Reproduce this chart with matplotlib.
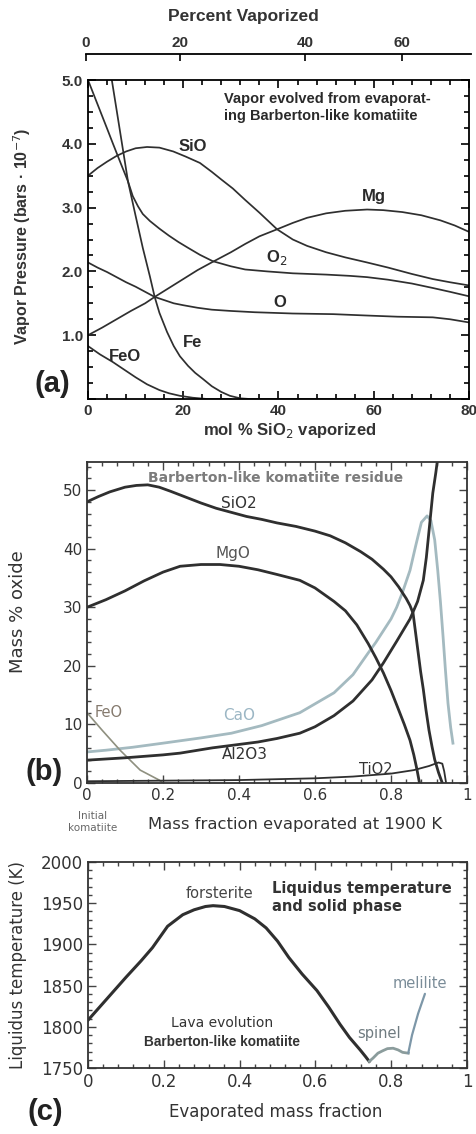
import matplotlib
matplotlib.use("Agg")
import matplotlib.pyplot as plt
from matplotlib.ticker import MultipleLocator, FixedLocator, FuncFormatter

W, H = 477, 1134

# ---------- panel (a): vapour pressures vs mol % SiO2 vaporized ----------
sio_x = [0, 2, 4, 6, 8, 10, 12.4, 15, 17.9, 20.5, 23.5, 26, 28, 30.4, 33, 36, 39.7, 43, 46, 50, 54, 58.6, 63, 68, 72.4, 76, 80]
sio_y = [3.5, 3.62, 3.72, 3.81, 3.88, 3.93, 3.95, 3.94, 3.88, 3.8, 3.7, 3.56, 3.44, 3.3, 3.12, 2.92, 2.66, 2.5, 2.4, 2.3, 2.22, 2.14, 2.06, 1.96, 1.88, 1.83, 1.78]
mg_x = [0, 3, 6, 9, 12, 14, 17, 20, 23, 26.2, 30, 33, 36, 39.7, 43, 46, 50, 54, 58.6, 62, 66, 70, 74, 77, 80]
mg_y = [1.0, 1.12, 1.25, 1.38, 1.5, 1.6, 1.74, 1.88, 2.02, 2.15, 2.3, 2.43, 2.55, 2.66, 2.76, 2.84, 2.91, 2.95, 2.97, 2.96, 2.93, 2.88, 2.8, 2.72, 2.62]
o2_x = [0, 2, 4, 5.25, 7, 8.4, 9.4, 10.5, 11.5, 13, 15, 17, 19, 21, 23.5, 26.2, 30, 33, 37.6, 43, 50, 55, 58.6, 63, 68, 72.4, 76, 80]
o2_y = [5.0, 4.62, 4.24, 4.0, 3.67, 3.41, 3.18, 3.02, 2.9, 2.79, 2.67, 2.56, 2.46, 2.37, 2.26, 2.16, 2.08, 2.03, 2.0, 1.97, 1.95, 1.93, 1.91, 1.87, 1.81, 1.74, 1.68, 1.61]
o_x = [0, 2, 4, 6, 8, 10, 12, 14, 16, 18, 20, 23, 26, 30, 35, 43, 51.5, 58, 65, 72.4, 76, 80]
o_y = [2.14, 2.06, 1.99, 1.91, 1.83, 1.76, 1.68, 1.6, 1.55, 1.5, 1.47, 1.43, 1.4, 1.38, 1.36, 1.34, 1.33, 1.31, 1.29, 1.28, 1.25, 1.2]
fe_x = [5, 6.5, 8.4, 10, 11.5, 13, 14, 15, 16.6, 18, 19.3, 21, 22.5, 24.2, 26, 28, 29.8, 32, 34, 80]
fe_y = [5.0, 4.3, 3.41, 2.87, 2.37, 1.92, 1.6, 1.35, 1.05, 0.83, 0.67, 0.52, 0.41, 0.31, 0.2, 0.11, 0.05, 0.01, 0.0, 0.0]
feo_x = [0, 2.5, 5.2, 8, 10, 12.4, 15, 17, 19.3, 22, 25, 30]
feo_y = [0.83, 0.7, 0.58, 0.44, 0.34, 0.23, 0.14, 0.09, 0.05, 0.02, 0.0, 0.0]
pct_labels = ["0", "20", "40", "60"]
pct_pos = [-0.4, 19.3, 45.6, 65.9]

# ---------- panel (b): residue composition ----------
sio2_x = [0, 0.03, 0.06, 0.1, 0.13, 0.16, 0.19, 0.22, 0.26, 0.3, 0.34, 0.38, 0.42, 0.46, 0.5, 0.55, 0.6, 0.64, 0.68,
          0.72, 0.75, 0.78, 0.8, 0.82, 0.84, 0.85, 0.858, 0.865, 0.872, 0.878, 0.885, 0.892, 0.9, 0.908, 0.915, 0.925, 0.935]
sio2_y = [48, 48.9, 49.7, 50.5, 50.8, 50.9, 50.5, 49.8, 48.8, 47.8, 46.9, 46.2, 45.5, 45, 44.4, 43.8, 43, 42.2, 41,
          39.5, 38.2, 36.5, 35.2, 33.5, 31.5, 30.3, 29, 25.5, 22, 19, 16, 12.5, 9, 6.2, 4, 1.8, 0]
mgo_x = [0, 0.05, 0.1, 0.15, 0.2, 0.245, 0.3, 0.35, 0.4, 0.45, 0.5, 0.56, 0.6, 0.65, 0.68, 0.71, 0.74, 0.76, 0.78,
         0.8, 0.82, 0.835, 0.85, 0.86, 0.868, 0.875]
mgo_y = [30, 31.3, 32.8, 34.5, 36, 37, 37.3, 37.3, 37, 36.4, 35.6, 34.6, 33.3, 31, 29.4, 27, 23.8, 21.4, 18.8,
         15.8, 12.5, 10, 7.3, 4.8, 2.4, 0]
cao_x = [0, 0.05, 0.12, 0.2, 0.3, 0.38, 0.46, 0.56, 0.65, 0.7, 0.74, 0.76, 0.78, 0.8, 0.815, 0.83, 0.85, 0.865, 0.88,
         0.895, 0.905, 0.915, 0.923, 0.93, 0.937, 0.943, 0.95, 0.957, 0.963]
cao_y = [5.3, 5.6, 6.1, 6.8, 7.7, 8.5, 9.8, 12, 15.4, 18.5, 22.2, 24, 26, 28, 30, 32.5, 36.3, 40.5, 44.5,
         45.6, 44.8, 41.5, 36.3, 31, 25, 19.5, 13.6, 9.5, 6.8]
al_x = [0, 0.1, 0.2, 0.245, 0.33, 0.45, 0.5, 0.56, 0.6, 0.65, 0.7, 0.75, 0.78, 0.815, 0.85, 0.87, 0.885, 0.893,
        0.9, 0.91, 0.918, 0.924]
al_y = [3.9, 4.3, 4.8, 5.1, 6.0, 7.0, 7.6, 8.5, 9.6, 11.5, 14, 17.6, 20.5, 24.2, 28, 31, 34.6, 38.5,
        43, 49.5, 53, 56]
feo_b_x = [0, 0.04, 0.087, 0.14, 0.19, 0.2]
feo_b_y = [12, 9, 5.6, 2.2, 0.5, 0]
tio2_x = [0, 0.2, 0.4, 0.6, 0.7, 0.8, 0.86, 0.9, 0.925, 0.935, 0.94, 0.945]
tio2_y = [0.3, 0.4, 0.5, 0.8, 1.1, 1.6, 2.2, 2.9, 3.5, 3.3, 2.0, 0]

# ---------- panel (c): liquidus temperature ----------
fo_x = [0, 0.05, 0.1, 0.14, 0.17, 0.21, 0.25, 0.28, 0.31, 0.33, 0.36, 0.4, 0.44, 0.47, 0.5, 0.53, 0.565, 0.604,
        0.635, 0.665, 0.69, 0.718, 0.732, 0.742]
fo_y = [1808, 1834, 1860, 1880, 1896, 1922, 1936, 1942, 1946, 1947, 1946, 1941, 1931, 1920, 1904, 1884, 1864, 1844,
        1824, 1803, 1787, 1772, 1764, 1758]
sp_x = [0.742, 0.752, 0.765, 0.778, 0.79, 0.805, 0.818, 0.83, 0.845]
sp_y = [1758, 1762, 1768, 1771, 1773.5, 1774, 1772, 1769, 1768]
mel_x = [0.845, 0.855, 0.871, 0.889]
mel_y = [1768, 1790, 1816, 1840]


def fx(px):
    return px / W


def fy(py):
    return 1 - py / H


def box(l, t, r, b):
    return [fx(l), fy(b), fx(r) - fx(l), fy(t) - fy(b)]


fig = plt.figure(figsize=(W / 100, H / 100), dpi=100)
BOLD = "Liberation Sans"
dark = "#2f2f2f"

# ---- (a)
ax = fig.add_axes(box(88, 80, 469, 399))
for xs, ys in [(sio_x, sio_y), (mg_x, mg_y), (o2_x, o2_y), (o_x, o_y), (fe_x, fe_y), (feo_x, feo_y)]:
    ax.plot(xs, ys, color=dark, lw=1.25, solid_joinstyle="round")
ax.set_xlim(0, 80)
ax.set_ylim(0, 5.0)
ax.xaxis.set_major_locator(MultipleLocator(20))
ax.xaxis.set_minor_locator(MultipleLocator(4))
ax.yaxis.set_major_locator(MultipleLocator(1))
ax.yaxis.set_minor_locator(MultipleLocator(0.25))
ax.yaxis.set_major_formatter(FuncFormatter(lambda v, p: "" if v == 0 else f"{v:.1f}"))
ax.tick_params(which="both", direction="in", top=True, right=True, width=1.2)
ax.tick_params(which="major", length=6, labelsize=11)
ax.tick_params(which="minor", length=3.5)
for lab in ax.get_xticklabels() + ax.get_yticklabels():
    lab.set_family(BOLD)
    lab.set_fontweight("bold")
    lab.set_color("#333333")
for s in ax.spines.values():
    s.set_linewidth(1.3)
kw = dict(family=BOLD, fontweight="bold", color="#2a2a2a", fontsize=12, ha="center", va="center")
ax.text(22.0, 3.95, "SiO", **kw)
ax.text(60.1, 3.17, "Mg", **kw)
ax.text(39.7, 2.22, "O$_2$", **kw)
ax.text(40.3, 1.52, "O", **kw)
ax.text(22.0, 0.89, "Fe", **kw)
ax.text(7.8, 0.67, "FeO", **kw)
ax.text(28.6, 4.57, "Vapor evolved from evaporat-\ning Barberton-like komatiite", family=BOLD,
        fontweight="bold", fontsize=10.5, color="#2a2a2a", ha="left", va="center", linespacing=1.25)

# top "Percent Vaporized" axis
axt = fig.add_axes([fx(86), fy(55), fx(471) - fx(86), 0.0005])
axt.set_xlim((86 - 88) / 4.7625, (471 - 88) / 4.7625)
axt.patch.set_visible(False)
for k in ["left", "right", "bottom"]:
    axt.spines[k].set_visible(False)
axt.spines["top"].set_linewidth(1.3)
axt.xaxis.tick_top()
axt.set_yticks([])
axt.xaxis.set_major_locator(FixedLocator(pct_pos))
axt.set_xticklabels(pct_labels)
axt.tick_params(axis="x", direction="in", length=5, width=1.2, labelsize=11, pad=3)
for lab in axt.get_xticklabels():
    lab.set_family(BOLD)
    lab.set_fontweight("bold")
    lab.set_color("#333333")
fig.text(fx(243), fy(17), "Percent Vaporized", family=BOLD, fontweight="bold", fontsize=12.5,
         color="#333333", ha="center", va="center")
fig.text(fx(290), fy(430), "mol % SiO$_2$ vaporized", family=BOLD, fontweight="bold", fontsize=12,
         color="#333333", ha="center", va="center")
fig.text(fx(22), fy(236), "Vapor Pressure (bars · 10$^{-7}$)", family=BOLD, fontweight="bold",
         fontsize=11.5, color="#333333", ha="center", va="center", rotation=90)
fig.text(fx(52), fy(384), "(a)", family=BOLD, fontweight="bold", fontsize=21, color="#222222",
         ha="center", va="center")

# ---- (b)
bx = fig.add_axes(box(87, 462, 467, 783))
bx.plot(cao_x, cao_y, color="#a4bac0", lw=2.0)
bx.plot(feo_b_x, feo_b_y, color="#8f9080", lw=1.2)
bx.plot(tio2_x, tio2_y, color=dark, lw=1.3)
bx.plot(al_x, al_y, color=dark, lw=2.0)
bx.plot(mgo_x, mgo_y, color=dark, lw=2.0)
bx.plot(sio2_x, sio2_y, color=dark, lw=2.0)
bx.set_xlim(0, 1)
bx.set_ylim(0, 54.8)
bx.xaxis.set_major_locator(MultipleLocator(0.2))
bx.xaxis.set_minor_locator(MultipleLocator(0.04))
bx.yaxis.set_major_locator(MultipleLocator(10))
bx.yaxis.set_minor_locator(MultipleLocator(2))
bx.xaxis.set_major_formatter(FuncFormatter(lambda v, p: "0" if v == 0 else ("1" if abs(v - 1) < 1e-9 else f"{v:.1f}")))
bx.tick_params(which="both", direction="in", top=True, right=True, width=1.0, colors="#444444")
bx.tick_params(which="major", length=6, labelsize=11, labelcolor="#333333")
bx.tick_params(which="minor", length=3)
for s in bx.spines.values():
    s.set_linewidth(1.3)
    s.set_color("#333333")
bx.text(0.495, 52.0, "Barberton-like komatiite residue", fontsize=10, fontweight="bold",
        color="#7c7c7c", ha="center", va="center")
bx.text(0.40, 47.8, "SiO2", fontsize=11, color="#333333", ha="center", va="center")
bx.text(0.384, 39.2, "MgO", fontsize=11, color="#555555", ha="center", va="center")
bx.text(0.02, 12.1, "FeO", fontsize=10.5, color="#857a6e", ha="left", va="center")
bx.text(0.40, 11.6, "CaO", fontsize=11, color="#9bb6c4", ha="center", va="center")
bx.text(0.415, 4.8, "Al2O3", fontsize=11, color="#333333", ha="center", va="center")
bx.text(0.76, 2.3, "TiO2", fontsize=10.5, color="#333333", ha="center", va="center")
fig.text(fx(295), fy(825), "Mass fraction evaporated at 1900 K", fontsize=11.8, color="#333333",
         ha="center", va="center")
fig.text(fx(93), fy(822), "Initial\nkomatiite", fontsize=7.5, color="#666666", ha="center", va="center",
         linespacing=1.3)
fig.text(fx(18), fy(612), "Mass % oxide", fontsize=13, color="#333333", ha="center", va="center",
         rotation=90)
fig.text(fx(44), fy(772), "(b)", family=BOLD, fontweight="bold", fontsize=21, color="#222222",
         ha="center", va="center")

# ---- (c)
cx = fig.add_axes(box(88, 862, 467, 1068))
cx.plot(fo_x, fo_y, color=dark, lw=2.2, solid_joinstyle="round")
cx.plot(sp_x, sp_y, color="#8b9c9c", lw=2.0, solid_joinstyle="round")
cx.plot(mel_x, mel_y, color="#7d97a8", lw=1.6, solid_capstyle="round")
cx.set_xlim(0, 1)
cx.set_ylim(1750, 2000)
cx.xaxis.set_major_locator(MultipleLocator(0.2))
cx.xaxis.set_minor_locator(MultipleLocator(0.04))
cx.yaxis.set_major_locator(MultipleLocator(50))
cx.yaxis.set_minor_locator(MultipleLocator(10))
cx.xaxis.set_major_formatter(FuncFormatter(lambda v, p: "0" if v == 0 else ("1" if abs(v - 1) < 1e-9 else f"{v:.1f}")))
cx.tick_params(which="both", direction="in", top=True, right=True, width=1.0, colors="#444444")
cx.tick_params(which="major", length=6, labelsize=12, labelcolor="#333333")
cx.tick_params(which="minor", length=3)
for s in cx.spines.values():
    s.set_linewidth(1.3)
    s.set_color("#333333")
cx.text(0.348, 1962, "forsterite", fontsize=10.5, color="#444444", ha="center", va="center")
cx.text(0.485, 1957, "Liquidus temperature\nand solid phase", fontsize=10.5, fontweight="bold",
        color="#333333", ha="left", va="center", linespacing=1.2)
cx.text(0.354, 1805, "Lava evolution", fontsize=10, color="#333333", ha="center", va="center")
cx.text(0.354, 1781, "Barberton-like komatiite", family=BOLD, fontsize=9.8, fontweight="bold",
        color="#333333", ha="center", va="center")
cx.text(0.768, 1792, "spinel", fontsize=10.5, color="#6f7b80", ha="center", va="center")
cx.text(0.876, 1853, "melilite", fontsize=10.5, color="#7a8c98", ha="center", va="center")
fig.text(fx(276), fy(1112), "Evaporated mass fraction", fontsize=12, color="#333333",
         ha="center", va="center")
fig.text(fx(18), fy(965), "Liquidus temperature (K)", fontsize=12, color="#333333", ha="center",
         va="center", rotation=90)
fig.text(fx(45), fy(1112), "(c)", family=BOLD, fontweight="bold", fontsize=21, color="#222222",
         ha="center", va="center")

fig.savefig("out.png", dpi=100)
